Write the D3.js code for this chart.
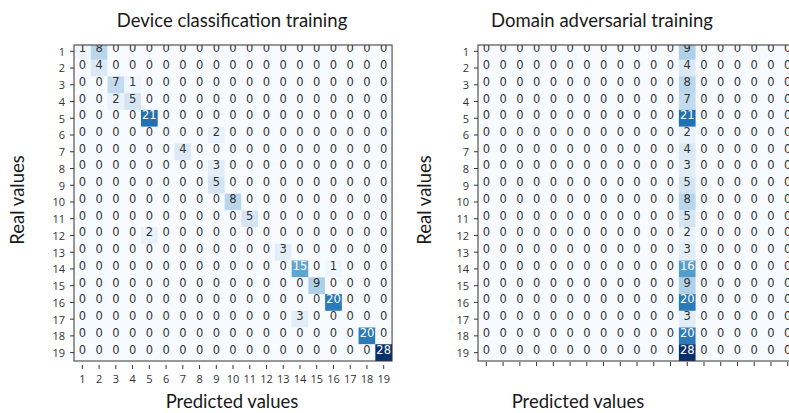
<!DOCTYPE html>
<html>
<head>
<meta charset="utf-8">
<script src="https://cdn.jsdelivr.net/npm/d3@7"></script>
<style>
  html, body { margin: 0; padding: 0; background: #fff; }
  svg { display: block; }
  .title, .axis-title { font-family: Lato, "Open Sans", sans-serif; fill: #1a1a1a; }
  .tick text { font-family: "Open Sans", "DejaVu Sans", sans-serif; fill: #333; }
  .cell-text { font-family: "DejaVu Sans", sans-serif; }
</style>
</head>
<body>
<svg id="chart" width="789" height="413"></svg>
<script>
// Class labels shared by both axes
const classLabels = ["1","2","3","4","5","6","7","8","9","10","11","12","13","14","15","16","17","18","19"];

// Confusion matrix after device classification training (rows = real, cols = predicted)
const deviceCounts = [
  [1,8,0,0,0,0,0,0,0,0,0,0,0,0,0,0,0,0,0],
  [0,4,0,0,0,0,0,0,0,0,0,0,0,0,0,0,0,0,0],
  [0,0,7,1,0,0,0,0,0,0,0,0,0,0,0,0,0,0,0],
  [0,0,2,5,0,0,0,0,0,0,0,0,0,0,0,0,0,0,0],
  [0,0,0,0,21,0,0,0,0,0,0,0,0,0,0,0,0,0,0],
  [0,0,0,0,0,0,0,0,2,0,0,0,0,0,0,0,0,0,0],
  [0,0,0,0,0,0,4,0,0,0,0,0,0,0,0,0,0,0,0],
  [0,0,0,0,0,0,0,0,3,0,0,0,0,0,0,0,0,0,0],
  [0,0,0,0,0,0,0,0,5,0,0,0,0,0,0,0,0,0,0],
  [0,0,0,0,0,0,0,0,0,8,0,0,0,0,0,0,0,0,0],
  [0,0,0,0,0,0,0,0,0,0,5,0,0,0,0,0,0,0,0],
  [0,0,0,0,2,0,0,0,0,0,0,0,0,0,0,0,0,0,0],
  [0,0,0,0,0,0,0,0,0,0,0,0,3,0,0,0,0,0,0],
  [0,0,0,0,0,0,0,0,0,0,0,0,0,15,0,1,0,0,0],
  [0,0,0,0,0,0,0,0,0,0,0,0,0,0,9,0,0,0,0],
  [0,0,0,0,0,0,0,0,0,0,0,0,0,0,0,20,0,0,0],
  [0,0,0,0,0,0,0,0,0,0,0,0,0,3,0,0,0,0,0],
  [0,0,0,0,0,0,0,0,0,0,0,0,0,0,0,0,0,20,0],
  [0,0,0,0,0,0,0,0,0,0,0,0,0,0,0,0,0,0,28]
];

// Confusion matrix after domain adversarial training: everything lands in class 13
const adversarialCol13 = [9,4,8,7,21,2,4,3,5,8,5,2,3,16,9,20,3,20,28];
const adversarialCounts = classLabels.map((_, r) =>
  classLabels.map((_, c) => (c === 12 ? adversarialCol13[r] : 0)));

const svg = d3.select("#chart");
const cellSize = 16.74;
const gridBottom = 361;
const gridTop = 45;

function drawMatrix(opts) {
  const { left, matrix, title, titleX, xTitleX, yTitleX, showXLabels, xTickTop, clipId } = opts;
  const x = d3.scaleBand().domain(classLabels).range([left, left + cellSize * classLabels.length]);
  const y = d3.scaleBand().domain(classLabels).range([gridBottom - cellSize * classLabels.length, gridBottom]);
  const vmax = d3.max(matrix.flat());
  const color = d3.scaleSequential(d3.interpolateBlues).domain([0, vmax]);

  const g = svg.append("g");
  g.append("clipPath").attr("id", clipId)
    .append("rect")
    .attr("x", left).attr("y", gridTop)
    .attr("width", cellSize * classLabels.length).attr("height", gridBottom - gridTop);

  const cells = [];
  matrix.forEach((row, r) => row.forEach((v, c) => cells.push({ r: classLabels[r], c: classLabels[c], v })));

  const body = g.append("g").attr("clip-path", `url(#${clipId})`);
  body.selectAll("rect.cell").data(cells).join("rect")
    .attr("class", "cell")
    .attr("x", d => x(d.c)).attr("y", d => y(d.r))
    .attr("width", x.bandwidth() + 0.3).attr("height", y.bandwidth() + 0.3)
    .attr("fill", d => color(d.v));

  body.selectAll("text.cell-text").data(cells).join("text")
    .attr("class", "cell-text")
    .attr("x", d => x(d.c) + x.bandwidth() / 2)
    .attr("y", d => y(d.r) + y.bandwidth() / 2 - 3)
    .attr("text-anchor", "middle")
    .attr("dominant-baseline", "central")
    .attr("font-size", 11.5)
    .attr("fill", d => (d.v > vmax / 2 ? "#ffffff" : "#333333"))
    .text(d => d.v);

  // Frame
  g.append("rect")
    .attr("x", left).attr("y", gridTop)
    .attr("width", cellSize * classLabels.length).attr("height", gridBottom - gridTop)
    .attr("fill", "none").attr("stroke", "#333").attr("stroke-width", 1);

  // Y axis
  const yAxis = g.append("g").attr("transform", `translate(${left},0)`)
    .call(d3.axisLeft(y).tickSize(4).tickPadding(5));
  yAxis.select(".domain").remove();
  yAxis.selectAll(".tick line").attr("stroke", "#333");
  yAxis.selectAll(".tick text").attr("font-size", 11).attr("dy", "0.4em");

  // X axis
  const xAxis = g.append("g").attr("transform", `translate(0,${xTickTop})`)
    .call(d3.axisBottom(x).tickSize(4).tickPadding(6));
  xAxis.select(".domain").remove();
  xAxis.selectAll(".tick line").attr("stroke", "#333");
  xAxis.selectAll(".tick text").attr("font-size", 11);
  if (!showXLabels) xAxis.selectAll(".tick text").remove();

  svg.append("text").attr("class", "title")
    .attr("x", titleX).attr("y", 27).attr("text-anchor", "middle")
    .attr("font-size", 18.5).text(title);

  svg.append("text").attr("class", "axis-title")
    .attr("x", xTitleX).attr("y", 408).attr("text-anchor", "middle")
    .attr("font-size", 18.5).text("Predicted values");

  svg.append("text").attr("class", "axis-title")
    .attr("transform", `translate(${yTitleX},200) rotate(-90)`)
    .attr("text-anchor", "middle")
    .attr("font-size", 18.5).text("Real values");
}

drawMatrix({
  left: 74, matrix: deviceCounts, title: "Device classification training",
  titleX: 232, xTitleX: 232, yTitleX: 24, showXLabels: true, xTickTop: 365, clipId: "clipA"
});

drawMatrix({
  left: 478, matrix: adversarialCounts, title: "Domain adversarial training",
  titleX: 602, xTitleX: 578, yTitleX: 431, showXLabels: false, xTickTop: 362, clipId: "clipB"
});
</script>
</body>
</html>
